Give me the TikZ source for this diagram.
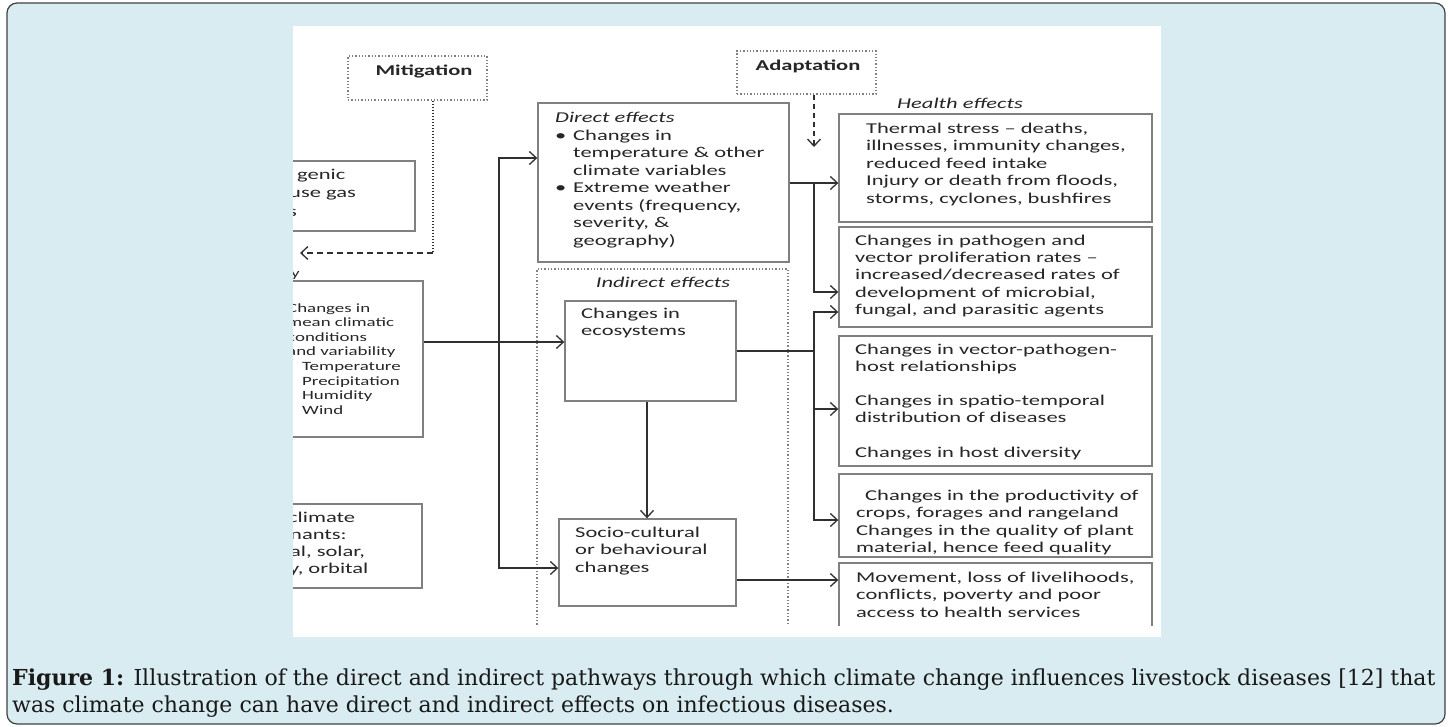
\documentclass[tikz,border=0pt]{standalone}
\usepackage{fontspec}
\newfontfamily\capfont{DejaVu Serif}
\newfontfamily\dfont{Carlito}[FakeStretch=1.5]
\usetikzlibrary{arrows.meta,calc}
\definecolor{capbg}{HTML}{D8ECF2}
\definecolor{boxgray}{HTML}{808080}
\definecolor{linedark}{HTML}{303030}
\newcommand{\lines}[1]{\parbox[t]{330pt}{\raggedright #1}}
\newcommand{\bul}{\leavevmode\llap{\textbullet\hspace{7pt}}}
\tikzset{
  box/.style={draw=boxgray, line width=1.4pt, inner sep=0pt},
  dotbox/.style={draw=boxgray, line width=1.3pt, dotted, inner sep=0pt},
  txt/.style={anchor=base west, inner sep=0pt, text=black!85, font=\dfont\fontsize{15}{17.5}\selectfont},
  smalltxt/.style={txt, font=\dfont\fontsize{12.6}{14.6}\selectfont},
  conn/.style={draw=linedark, line width=1.5pt},
  arr/.style={conn, -{Straight Barb[length=7pt,width=13pt,line width=1.3pt]}},
  dotconn/.style={draw=linedark, line width=1.5pt, dash pattern=on 1.5pt off 1.5pt},
  dashconn/.style={draw=linedark, line width=1.5pt, dash pattern=on 6pt off 4pt},
}
\begin{document}
\begin{tikzpicture}[x=1pt,y=-1pt]
\useasboundingbox (0,0) rectangle (1448,726);
\fill[white] (0,0) rectangle (1448,726);
\draw[fill=capbg, draw=black!75, line width=1.2pt, rounded corners=10pt] (7,3) rectangle (1445,724);
\fill[white] (293,26) rectangle (1161,637);

\begin{scope}
\clip (293,26) rectangle (1161,625);
% boxes
\node[dotbox, minimum width=139pt, minimum height=44pt] (mit) at (417.5,78) {};
\node[dotbox, minimum width=139pt, minimum height=43pt] (adapt) at (806.5,72.5) {};
\node[box, minimum width=165pt, minimum height=70pt] (anth) at (332.5,196) {};
\node[box, minimum width=173pt, minimum height=156pt] (clim) at (336.5,359) {};
\node[box, minimum width=172pt, minimum height=84pt] (natd) at (336,546) {};
\node[box, minimum width=251pt, minimum height=159pt] (direct) at (663.5,182.5) {};
\node[dotbox, minimum width=251pt, minimum height=391pt] (indirect) at (662.5,464.5) {};
\node[box, minimum width=171pt, minimum height=100pt] (eco) at (650.5,351) {};
\node[box, minimum width=177pt, minimum height=87pt] (socio) at (647.5,562.5) {};
\node[box, minimum width=313pt, minimum height=108pt] (h1) at (995.5,168) {};
\node[box, minimum width=313pt, minimum height=100pt] (h2) at (995.5,277) {};
\node[box, minimum width=313pt, minimum height=130pt] (h3) at (995.5,401) {};
\node[box, minimum width=313pt, minimum height=83pt] (h4) at (995.5,515.5) {};
\node[box, minimum width=313pt, minimum height=97pt] (h5) at (995.5,611.5) {};

% texts
\node[txt, anchor=base, font=\dfont\bfseries\fontsize{15}{17.5}\selectfont] (mitt) at (424,75) {Mitigation};
\node[txt, anchor=base, font=\dfont\bfseries\fontsize{15}{17.5}\selectfont] (adaptt) at (808,70) {Adaptation};
\node[txt] (anth1) at (297,179) {genic};
\node[txt] (anth2) at (289,197.5) {use gas};
\node[txt] (anth3) at (288,216) {s};
\node[smalltxt] (cliy) at (291,277) {y};
\node[smalltxt] (climt) at (287,312) {\lines{Changes in\\mean climatic\\conditions\\and variability\\\hspace*{15pt}Temperature\\\hspace*{15pt}Precipitation\\\hspace*{15pt}Humidity\\\hspace*{15pt}Wind}};
\node[txt, font=\dfont\fontsize{15}{17}\selectfont] (natdt) at (288,522) {\lines{climate\\\hspace*{2pt}nants:\\\hspace*{2pt}al, solar,\\\hspace*{1pt}y, orbital}};
\node[txt, font=\dfont\itshape\fontsize{15}{17.5}\selectfont] (directh) at (555,122) {Direct effects};
\node[txt] (directt) at (573,140) {\lines{\bul Changes in\\temperature \& other\\climate variables\\\bul Extreme weather\\events (frequency,\\severity, \&\\geography)}};
\node[txt, anchor=base, font=\dfont\itshape\fontsize{15}{17.5}\selectfont] (indirecth) at (663,287) {Indirect effects};
\node[txt] (ecot) at (581,318) {\lines{Changes in\\ecosystems}};
\node[txt] (sociot) at (575,537) {\lines{Socio-cultural\\or behavioural\\changes}};
\node[txt, font=\dfont\itshape\fontsize{15}{17.5}\selectfont] (healthh) at (897,108) {Health effects};
\node[txt] (h1t) at (866,133) {\lines{Thermal stress – deaths,\\illnesses, immunity changes,\\reduced feed intake\\Injury or death from floods,\\storms, cyclones, bushfires}};
\node[txt, font=\dfont\fontsize{15}{17.4}\selectfont] (h2t) at (855,245) {\lines{Changes in pathogen and\\vector proliferation rates –\\increased/decreased rates of\\development of microbial,\\fungal, and parasitic agents}};
\node[txt, font=\dfont\fontsize{15}{17.2}\selectfont] (h3t) at (855,354) {\lines{Changes in vector-pathogen-\\host relationships\\[17.2pt]Changes in spatio-temporal\\distribution of diseases\\[17.2pt]Changes in host diversity}};
\node[txt] (h4t) at (856,500) {\lines{\hspace*{9pt}Changes in the productivity of\\crops, forages and rangeland\\Changes in the quality of plant\\material, hence feed quality}};
\node[txt] (h5t) at (856,582) {\lines{Movement, loss of livelihoods,\\conflicts, poverty and poor\\access to health services}};

% connectors
\coordinate (mitturn) at (433,253);
\coordinate (mitend) at (300,253);
\draw[dotconn] (mit.south -| mitturn) -- (mitturn);
\draw[dashconn, -{Straight Barb[length=7pt,width=13pt,line width=1.3pt]}] (mitturn) -- (mitend);
\coordinate (adend) at (814,147);
\draw[dashconn, dash pattern=on 5pt off 4pt, -{Straight Barb[length=7pt,width=13pt,line width=1.3pt]}] (adapt.south -| adend) -- (adend);

\coordinate (sp1) at (499,158);
\coordinate (sp2) at (499,568);
\draw[arr] (sp2) -- (sp1) -- (direct.west |- sp1);
\draw[arr] (sp1) -- (sp2) -- (socio.west |- sp2);
\coordinate (y342) at (0,342);
\draw[arr] (clim.east |- y342) -- (eco.west |- y342);

\coordinate (ja) at (814,183);
\coordinate (jb) at (814,292);
\draw[arr] (direct.east |- ja) -- (h1.west |- ja);
\draw[arr] (ja) -- (jb) -- (h2.west |- jb);

\coordinate (jc) at (814,312);
\coordinate (jd) at (814,520);
\coordinate (je) at (814,409);
\coordinate (jf) at (814,351);
\draw[conn] (eco.east) -- (jf);
\draw[arr] (jf) -- (jc) -- (h2.west |- jc);
\draw[arr] (jf) -- (jd) -- (h4.west |- jd);
\draw[arr] (je) -- (h3.west |- je);

\coordinate (ex) at (647,0);
\draw[arr] (eco.south -| ex) -- (socio.north -| ex);
\coordinate (y580) at (0,580);
\draw[arr] (socio.east |- y580) -- (h5.west |- y580);
\end{scope}

\node[anchor=base west, inner sep=0pt, font=\capfont\fontsize{22}{27}\selectfont, text=black!90] (cap) at (12,685) {\parbox[t]{1430pt}{\raggedright\textbf{Figure 1:} Illustration of the direct and indirect pathways through which climate change influences livestock diseases [12] that\\was climate change can have direct and indirect effects on infectious diseases.}};
\end{tikzpicture}
\end{document}
